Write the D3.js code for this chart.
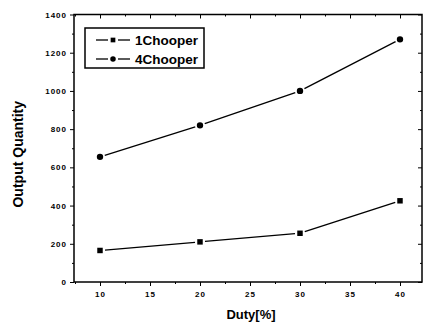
<!DOCTYPE html>
<html>
<head>
<script src="https://d3js.org/d3.v7.min.js"></script>
<style>
  body { margin: 0; background: #fff; }
  svg { display: block; }
  .axis text { font-family: Arial, "Liberation Sans", sans-serif; font-size: 8px; font-weight: bold; letter-spacing: 1px; fill: #000; }
  .axis line, .axis path { stroke: #000; }
  .title { font-family: Arial, "Liberation Sans", sans-serif; font-weight: bold; fill: #000; }
</style>
</head>
<body>
<script>
// chart data
const duty = [10, 20, 30, 40];
const chooper1 = [165, 210, 255, 425];
const chooper4 = [655, 820, 1000, 1270];
const seriesNames = ["1Chooper", "4Chooper"];
const yTicks = [0, 200, 400, 600, 800, 1000, 1200, 1400];
const xTicks = [10, 15, 20, 25, 30, 35, 40];

const width = 423, height = 325;
const plot = {left: 74, right: 422, top: 14.5, bottom: 282};

const svg = d3.select("body").append("svg")
    .attr("width", width)
    .attr("height", height);

const x = d3.scaleLinear().domain([7.4, 42.2]).range([plot.left, plot.right]);
const y = d3.scaleLinear().domain([0, 1400]).range([plot.bottom, plot.top]);

const minorX = d3.range(7.5, 42.5, 2.5).filter(v => v % 5 !== 0);
const minorY = d3.range(100, 1400, 200);

// frame
svg.append("rect")
    .attr("x", plot.left).attr("y", plot.top)
    .attr("width", plot.right - plot.left)
    .attr("height", plot.bottom - plot.top)
    .attr("fill", "none").attr("stroke", "#000").attr("stroke-width", 1.5);

// bottom + left axes (ticks out)
svg.append("g").attr("class", "axis")
    .attr("transform", `translate(0,${plot.bottom})`)
    .call(d3.axisBottom(x).tickValues(xTicks).tickSize(4).tickPadding(5).tickFormat(d3.format("d")))
    .call(g => g.select(".domain").remove());

svg.append("g").attr("class", "axis")
    .attr("transform", `translate(${plot.left},0)`)
    .call(d3.axisLeft(y).tickValues(yTicks).tickSize(4).tickPadding(3).tickFormat(d3.format("d")))
    .call(g => g.select(".domain").remove());

// top + right axes (ticks in)
svg.append("g").attr("class", "axis")
    .attr("transform", `translate(0,${plot.top})`)
    .call(d3.axisBottom(x).tickValues(xTicks).tickSize(4).tickFormat(""))
    .call(g => g.select(".domain").remove());

svg.append("g").attr("class", "axis")
    .attr("transform", `translate(${plot.right},0)`)
    .call(d3.axisLeft(y).tickValues(yTicks).tickSize(4).tickFormat(""))
    .call(g => g.select(".domain").remove());

// minor ticks
svg.append("g").attr("class", "axis")
    .attr("transform", `translate(0,${plot.bottom})`)
    .call(d3.axisBottom(x).tickValues(minorX).tickSize(2).tickFormat(""))
    .call(g => g.select(".domain").remove());
svg.append("g").attr("class", "axis")
    .attr("transform", `translate(0,${plot.top})`)
    .call(d3.axisBottom(x).tickValues(minorX).tickSize(2).tickFormat(""))
    .call(g => g.select(".domain").remove());
svg.append("g").attr("class", "axis")
    .attr("transform", `translate(${plot.left},0)`)
    .call(d3.axisLeft(y).tickValues(minorY).tickSize(2).tickFormat(""))
    .call(g => g.select(".domain").remove());
svg.append("g").attr("class", "axis")
    .attr("transform", `translate(${plot.right},0)`)
    .call(d3.axisLeft(y).tickValues(minorY).tickSize(2).tickFormat(""))
    .call(g => g.select(".domain").remove());

// series: line segments that stop short of the symbols
const gap = 5;
function drawSeries(values, symbol) {
  const pts = duty.map((d, i) => [x(d), y(values[i])]);
  const g = svg.append("g");
  for (let i = 0; i < pts.length - 1; i++) {
    const [x1, y1] = pts[i], [x2, y2] = pts[i + 1];
    const len = Math.hypot(x2 - x1, y2 - y1);
    const ux = (x2 - x1) / len, uy = (y2 - y1) / len;
    g.append("line")
      .attr("x1", x1 + ux * gap).attr("y1", y1 + uy * gap)
      .attr("x2", x2 - ux * gap).attr("y2", y2 - uy * gap)
      .attr("stroke", "#000").attr("stroke-width", 1.3);
  }
  g.selectAll("path.sym").data(pts).enter().append("path")
    .attr("class", "sym")
    .attr("transform", d => `translate(${d[0]},${d[1]})`)
    .attr("d", d3.symbol().type(symbol).size(symbol === d3.symbolSquare ? 30 : 32))
    .attr("fill", "#000");
}
drawSeries(chooper1, d3.symbolSquare);
drawSeries(chooper4, d3.symbolCircle);

// legend
const legend = svg.append("g");
legend.append("rect")
    .attr("x", 85).attr("y", 28).attr("width", 119).attr("height", 40)
    .attr("fill", "#fff").attr("stroke", "#000").attr("stroke-width", 1.5);
seriesNames.forEach((name, i) => {
  const ly = 40 + i * 19;
  legend.append("line").attr("x1", 96).attr("x2", 108).attr("y1", ly).attr("y2", ly)
    .attr("stroke", "#000").attr("stroke-width", 1.3);
  legend.append("line").attr("x1", 118).attr("x2", 130).attr("y1", ly).attr("y2", ly)
    .attr("stroke", "#000").attr("stroke-width", 1.3);
  legend.append("path")
    .attr("transform", `translate(113,${ly})`)
    .attr("d", d3.symbol().type(i === 0 ? d3.symbolSquare : d3.symbolCircle).size(i === 0 ? 22 : 24))
    .attr("fill", "#000");
  legend.append("text").attr("class", "title")
    .attr("x", 135).attr("y", ly + 5)
    .style("font-size", "13.5px")
    .text(name);
});

// axis titles
svg.append("text").attr("class", "title")
    .attr("transform", `translate(23,${(plot.top + plot.bottom) / 2 + 6}) rotate(-90)`)
    .attr("text-anchor", "middle")
    .style("font-size", "14px")
    .text("Output Quantity");

svg.append("text").attr("class", "title")
    .attr("x", 251).attr("y", 319)
    .attr("text-anchor", "middle")
    .style("font-size", "13px")
    .text("Duty[%]");
</script>
</body>
</html>
